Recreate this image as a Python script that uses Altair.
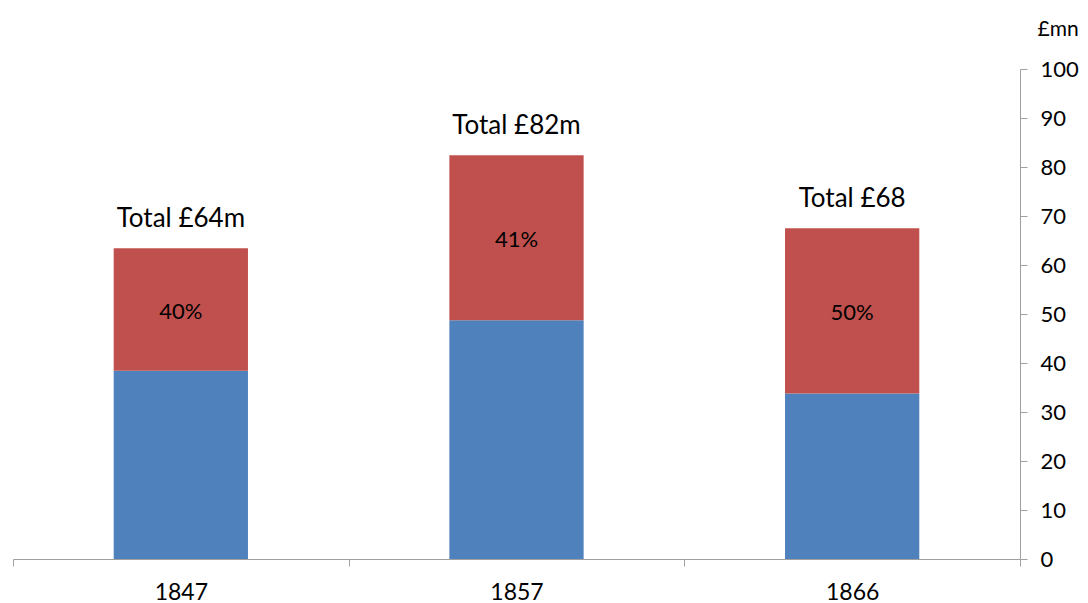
import altair as alt
import pandas as pd

years = ["1847", "1857", "1866"]
blue_vals = [38.4, 48.7, 33.8]
red_vals = [25.0, 33.7, 33.7]
totals_text = ["Total £64m", "Total £82m", "Total £68"]
pct_text = ["40%", "41%", "50%"]

rows = []
for i, y in enumerate(years):
    rows.append({"year": y, "series": "a", "start": 0, "end": blue_vals[i]})
    rows.append({"year": y, "series": "b", "start": blue_vals[i], "end": blue_vals[i] + red_vals[i]})
bars_df = pd.DataFrame(rows)

lab_df = pd.DataFrame({
    "year": years,
    "total": [b + r for b, r in zip(blue_vals, red_vals)],
    "mid": [b + r / 2 for b, r in zip(blue_vals, red_vals)],
    "ttext": totals_text,
    "ptext": pct_text,
})

FONT = "Lato"
AX = "#A0A0A0"

x_enc = alt.X("year:N", sort=years, title=None,
              scale=alt.Scale(paddingInner=0, paddingOuter=0),
              axis=alt.Axis(labelAngle=0, tickBand="extent", tickSize=7,
                            domainColor=AX, tickColor=AX,
                            labelFont=FONT, labelFontSize=23, labelColor="#000000",
                            labelPadding=15, grid=False))

bars = alt.Chart(bars_df).mark_bar(width=alt.RelativeBandSize(0.4)).encode(
    x=x_enc,
    y=alt.Y("start:Q", scale=alt.Scale(domain=[0, 100]),
            axis=alt.Axis(orient="right", values=list(range(0, 101, 10)),
                          tickSize=7, domainColor=AX, tickColor=AX,
                          labelFont=FONT, labelFontSize=22, labelColor="#000000",
                          labelPadding=13, grid=False,
                          title="£mn", titleAngle=0, titleAlign="left",
                          titleBaseline="middle", titleX=17, titleY=-40,
                          titleFont=FONT, titleFontSize=21, titleFontWeight="normal",
                          titleColor="#000000")),
    y2="end:Q",
    color=alt.Color("series:N", scale=alt.Scale(domain=["a", "b"], range=["#4F81BD", "#C0504D"]),
                    legend=None),
)

totals = alt.Chart(lab_df).mark_text(font=FONT, fontSize=26, color="#000000",
                                     baseline="alphabetic", dy=-21).encode(
    x=alt.X("year:N", sort=years),
    y=alt.Y("total:Q"),
    text="ttext:N",
)

pcts = alt.Chart(lab_df).mark_text(font=FONT, fontSize=22, color="#000000",
                                   baseline="middle", dy=2).encode(
    x=alt.X("year:N", sort=years),
    y=alt.Y("mid:Q"),
    text="ptext:N",
)

chart = alt.layer(bars, totals, pcts).properties(
    width=1007, height=490,
    background="white",
    autosize=alt.AutoSizeParams(type="none"),
    padding={"left": 5, "top": 61, "right": 60, "bottom": 46},
).configure_view(stroke=None)

chart.save("out.html", embed_options={"renderer": "svg", "actions": False})
